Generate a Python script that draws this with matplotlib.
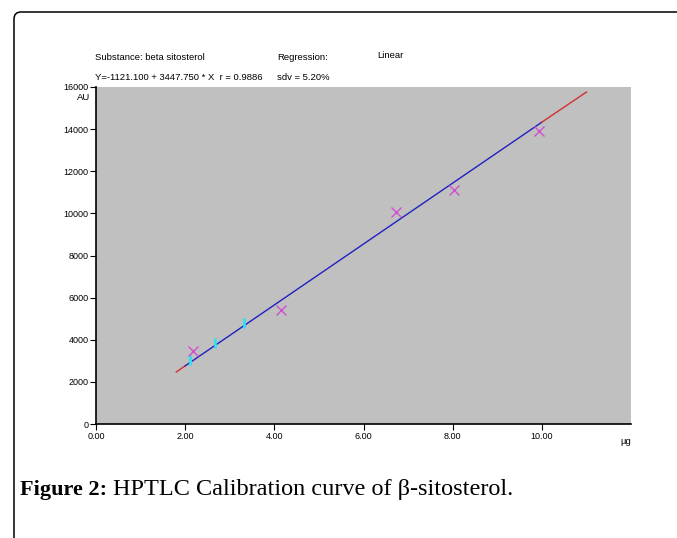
import matplotlib
matplotlib.use('Agg')
import matplotlib.pyplot as plt
from matplotlib.patches import FancyBboxPatch
from matplotlib.transforms import IdentityTransform

plt.rcParams['font.family'] = ['Liberation Sans', 'DejaVu Sans']

# measured standards (ug, AU)
std_x = [2.17, 4.14, 6.73, 8.03, 9.93]
std_y = [3470, 5410, 10070, 11110, 13910]

# cyan check marks sitting on the line
chk_x = [2.10, 2.66, 3.33]
chk_y = [3040, 3850, 4800]

# calibration line (red ends, blue middle)
line_x = [1.8, 2.0, 10.0, 11.0]
line_y = [2470, 2760, 14330, 15760]

x_ticks = [0, 2, 4, 6, 8, 10]
x_labels = ['0.00', '2.00', '4.00', '6.00', '8.00', '10.00']
y_ticks = [0, 2000, 4000, 6000, 8000, 10000, 12000, 14000, 16000]

fig = plt.figure(figsize=(6.77, 5.38), dpi=100)
fig.patch.set_facecolor('white')

# outer frame with rounded top-left corner
frame = FancyBboxPatch((14, -30), 720, 538 - 12 + 30,
                       boxstyle='round,pad=0,rounding_size=7',
                       transform=IdentityTransform(), fill=False,
                       edgecolor='black', linewidth=1.1)
fig.add_artist(frame)

ax = fig.add_axes([96 / 677, 1 - 424 / 538, 535 / 677, 337 / 538])
ax.set_facecolor('#c0c0c0')
ax.set_xlim(0, 12)
ax.set_ylim(0, 16000)

ax.plot(line_x[:2], line_y[:2], color='#d03030', lw=1)
ax.plot(line_x[1:3], line_y[1:3], color='#2020c0', lw=1)
ax.plot(line_x[2:], line_y[2:], color='#d03030', lw=1)
ax.plot(chk_x, chk_y, ls='none', marker='|', color='#30e0f0', ms=7, mew=2)
ax.plot(std_x, std_y, ls='none', marker='x', color='#d050d0', ms=7, mew=1)

ax.set_xticks(x_ticks)
ax.set_xticklabels(x_labels)
ax.set_yticks(y_ticks)
ax.tick_params(labelsize=6.5, length=4, width=0.8, pad=1.5, colors='black')
for s in ['top', 'right']:
    ax.spines[s].set_visible(False)
for s in ['left', 'bottom']:
    ax.spines[s].set_linewidth(1.2)

fs = 6.8
fig.text(95 / 677, 1 - 57 / 538, 'Substance: beta sitosterol', fontsize=fs, va='center')
fig.text(277 / 677, 1 - 57 / 538, 'Regression:', fontsize=fs, va='center')
fig.text(377 / 677, 1 - 56 / 538, 'Linear', fontsize=fs, va='center')
fig.text(95 / 677, 1 - 77 / 538, 'Y=-1121.100 + 3447.750 * X  r = 0.9886',
         fontsize=fs, va='center')
fig.text(277 / 677, 1 - 77 / 538, 'sdv = 5.20%', fontsize=fs, va='center')
fig.text(77 / 677, 1 - 97 / 538, 'AU', fontsize=fs, va='center')
fig.text(620 / 677, 1 - 442 / 538, 'µg', fontsize=fs, va='center')

cy = 1 - 490 / 538
t = fig.text(20 / 677, cy, 'Figure 2:', fontsize=16, fontweight='bold',
             family='Liberation Serif', va='center')
fig.canvas.draw()
bb = t.get_window_extent()
fig.text(bb.x1 / 677 + 0.008, cy, 'HPTLC Calibration curve of β-sitosterol.',
         fontsize=17.5, family='Liberation Serif', va='center')

fig.savefig('out.png', dpi=100)
